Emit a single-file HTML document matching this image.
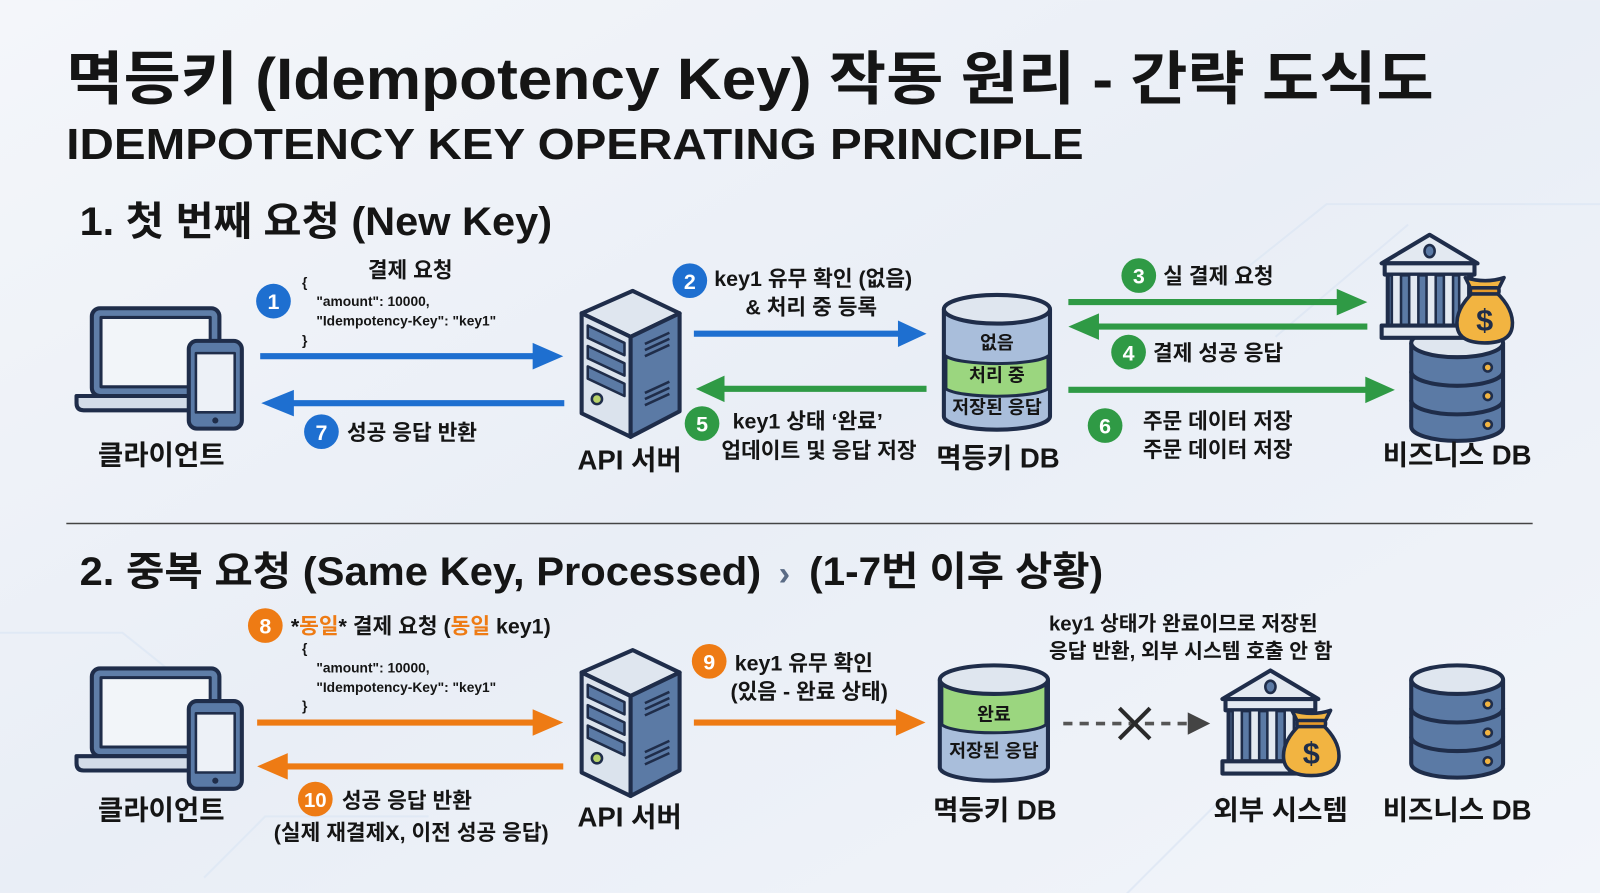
<!DOCTYPE html>
<html><head><meta charset="utf-8"><style>
html,body{margin:0;padding:0;width:1600px;height:893px;overflow:hidden;background:#f0f3f8}
svg{display:block}
text{font-family:"Liberation Sans","Noto Sans CJK KR",sans-serif;font-weight:bold;fill:#151515}
</style></head><body>
<svg width="1600" height="893" viewBox="0 0 1568 875" xmlns="http://www.w3.org/2000/svg">
<defs>
<linearGradient id="bg" x1="0" y1="0" x2="1" y2="1"><stop offset="0" stop-color="#f4f6fa"/><stop offset="0.5" stop-color="#e9eef6"/><stop offset="1" stop-color="#f2f5fa"/></linearGradient>
<g id="laptop" stroke="#1f2d4a" stroke-linejoin="round">
<rect x="15" y="0" width="125" height="86" rx="8" fill="#5f7ea8" stroke-width="4"/>
<rect x="24" y="9" width="107" height="68" fill="#f2f5f9" stroke-width="3"/>
<path d="M0,86 L155,86 L155,93 Q155,100 148,100 L7,100 Q0,100 0,93 Z" fill="#d3dce8" stroke-width="4"/>
<rect x="110" y="32" width="52" height="86" rx="8" fill="#5a7aa6" stroke-width="4"/>
<rect x="117" y="44" width="38" height="58" fill="#edf1f7" stroke-width="2.5"/>
<circle cx="136" cy="110" r="3" fill="#1f2d4a" stroke="none"/>
</g>
<g id="server" stroke="#1f2d4a" stroke-width="4" stroke-linejoin="round">
<polygon points="0,22 50,0 96,22 48,45" fill="#dfe6ef"/>
<polygon points="0,22 48,45 48,143 0,120" fill="#dbe3ed"/>
<polygon points="48,45 96,22 96,118 48,143" fill="#5b7aa5"/>
<polygon points="6,34 42,51 42,63 6,46" fill="#5b7aa5" stroke-width="2.5"/>
<polygon points="6,54 42,71 42,83 6,66" fill="#5b7aa5" stroke-width="2.5"/>
<polygon points="6,74 42,91 42,103 6,86" fill="#5b7aa5" stroke-width="2.5"/>
<circle cx="15" cy="106" r="5" fill="#b8d36a" stroke-width="2.5"/>
<g stroke-width="2.5"><line x1="62" y1="52" x2="86" y2="41"/><line x1="62" y1="58" x2="86" y2="47"/><line x1="62" y1="64" x2="86" y2="53"/><line x1="62" y1="100" x2="86" y2="89"/><line x1="62" y1="106" x2="86" y2="95"/><line x1="62" y1="112" x2="86" y2="101"/></g>
</g>
<g id="bank" stroke="#1f2d4a" stroke-width="4" stroke-linejoin="round">
<polygon points="47,0 0,28 94,28" fill="#e3e9f1"/>
<ellipse cx="47" cy="16" rx="5" ry="6" fill="#5b7aa5" stroke-width="2.5"/>
<rect x="3" y="28" width="88" height="11" fill="#e3e9f1"/>
<rect x="6" y="39" width="82" height="50" fill="#5b7aa5"/>
<g fill="#e3e9f1" stroke-width="2.5"><rect x="10" y="39" width="9" height="50"/><rect x="27" y="39" width="9" height="50"/><rect x="44" y="39" width="9" height="50"/><rect x="61" y="39" width="9" height="50"/><rect x="76" y="39" width="9" height="50"/></g>
<rect x="0" y="89" width="94" height="12" fill="#e3e9f1"/>
</g>
<g id="bag" stroke="#1f2d4a" stroke-width="3.5" stroke-linejoin="round">
<path d="M16,16 L10,4 Q30,10 48,4 L42,16 Z" fill="#f2b441"/>
<path d="M18,18 Q0,35 2,52 Q4,68 29,68 Q54,68 56,52 Q58,35 40,18 Z" fill="#f2b441"/>
<rect x="15" y="14" width="28" height="6" rx="2" fill="#e59a2a"/>
<text x="29" y="56" text-anchor="middle" font-size="30" style="fill:#1f2d4a;stroke:none">$</text>
</g>
<g id="stack" stroke="#1f2d4a" stroke-width="4">
<path d="M0,14 L0,96 A45,14 0 0 0 90,96 L90,14" fill="#5b7aa5"/>
<ellipse cx="45" cy="14" rx="45" ry="14" fill="#dfe6ef"/>
<path d="M0,42 A45,14 0 0 0 90,42 M0,70 A45,14 0 0 0 90,70" fill="none"/>
<g fill="#f2b441" stroke-width="2.5"><circle cx="75" cy="38" r="4"/><circle cx="75" cy="66" r="4"/><circle cx="75" cy="94" r="4"/></g>
</g>
</defs>
<rect width="1568" height="875" fill="url(#bg)"/>
<g stroke="#dfe8f4" stroke-width="2" fill="none" opacity="0.9">
<path d="M1200,280 L1300,200 L1568,200"/><path d="M1250,330 L1380,220"/><path d="M0,620 L120,620 L170,660"/><path d="M200,860 L260,800 L420,800"/><path d="M1100,880 L1200,780"/>
</g>

<!-- titles -->
<text x="65" y="97" font-size="57" textLength="1340" lengthAdjust="spacingAndGlyphs">멱등키 (Idempotency Key) 작동 원리 - 간략 도식도</text>
<text x="65" y="156" font-size="43" textLength="997" lengthAdjust="spacingAndGlyphs">IDEMPOTENCY KEY OPERATING PRINCIPLE</text>
<text x="78" y="230" font-size="39" textLength="463" lengthAdjust="spacingAndGlyphs">1. 첫 번째 요청 (New Key)</text>

<!-- section 1 -->
<use href="#laptop" x="75" y="302"/>
<text x="158" y="455" font-size="27" text-anchor="middle">클라이언트</text>
<use href="#server" x="570" y="285"/>
<text x="617" y="460" font-size="27" text-anchor="middle">API 서버</text>

<g fill="#1e6fd0" stroke="#1e6fd0">
<line x1="255" y1="349" x2="525" y2="349" stroke-width="6"/><polygon points="522,336 552,349 522,362" stroke="none"/>
<line x1="285" y1="395" x2="553" y2="395" stroke-width="6"/><polygon points="288,382 256,395 288,408" stroke="none"/>
<line x1="680" y1="327" x2="882" y2="327" stroke-width="6"/><polygon points="880,314 908,327 880,340" stroke="none"/>
</g>
<g fill="#2f9a45" stroke="#2f9a45">
<line x1="708" y1="381" x2="908" y2="381" stroke-width="6"/><polygon points="710,368 682,381 710,394" stroke="none"/>
<line x1="1047" y1="296" x2="1312" y2="296" stroke-width="6"/><polygon points="1310,283 1340,296 1310,309" stroke="none"/>
<line x1="1075" y1="320" x2="1340" y2="320" stroke-width="6"/><polygon points="1077,307 1047,320 1077,333" stroke="none"/>
<line x1="1047" y1="382" x2="1340" y2="382" stroke-width="6"/><polygon points="1338,369 1367,382 1338,395" stroke="none"/>
</g>

<g fill="#1e6fd0"><circle cx="268" cy="295" r="17"/><circle cx="315" cy="423" r="17"/><circle cx="676" cy="275" r="17"/></g>
<g fill="#2f9a45"><circle cx="688" cy="415" r="17"/><circle cx="1116" cy="270" r="17"/><circle cx="1106" cy="345" r="17"/><circle cx="1083" cy="417" r="17"/></g>
<g font-size="21" text-anchor="middle">
<text x="268" y="303" style="fill:#fff">1</text><text x="315" y="431" style="fill:#fff">7</text><text x="676" y="283" style="fill:#fff">2</text>
<text x="688" y="423" style="fill:#fff">5</text><text x="1116" y="278" style="fill:#fff">3</text><text x="1106" y="353" style="fill:#fff">4</text><text x="1083" y="425" style="fill:#fff">6</text>
</g>
<text x="402" y="272" font-size="21" text-anchor="middle">결제 요청</text>
<g font-size="13.5"><text x="296" y="281">{</text><text x="310" y="300">"amount": 10000,</text><text x="310" y="319">"Idempotency-Key": "key1"</text><text x="296" y="338">}</text></g>
<text x="340" y="431" font-size="21">성공 응답 반환</text>
<text x="700" y="280" font-size="21">key1 유무 확인 (없음)</text>
<text x="795" y="308" font-size="21" text-anchor="middle">&amp; 처리 중 등록</text>
<text x="718" y="420" font-size="21">key1 상태 ‘완료’</text>
<text x="707" y="449" font-size="21">업데이트 및 응답 저장</text>
<text x="1140" y="278" font-size="21">실 결제 요청</text>
<text x="1130" y="353" font-size="21">결제 성공 응답</text>
<text x="1120" y="420" font-size="21">주문 데이터 저장</text>
<text x="1120" y="448" font-size="21">주문 데이터 저장</text>

<!-- idem DB 1 -->
<g stroke="#1f2d4a" stroke-width="4">
<path d="M925,303 L925,408 A52,13 0 0 0 1029,408 L1029,303" fill="#a9bedb"/>
<path d="M927,349 A52,10 0 0 0 1027,349 L1027,381 A52,10 0 0 1 927,381 Z" fill="#9bd67f" stroke-width="3"/>
<ellipse cx="977" cy="303" rx="52" ry="14" fill="#dfe6ef"/>
</g>
<g font-size="18" text-anchor="middle"><text x="977" y="342">없음</text><text x="977" y="374">처리 중</text><text x="977" y="405">저장된 응답</text></g>
<text x="978" y="458" font-size="27" text-anchor="middle">멱등키 DB</text>

<use href="#stack" x="1383" y="322"/>
<use href="#bank" x="1354" y="230"/>
<use href="#bag" x="1426" y="268"/>
<text x="1428" y="455" font-size="27" text-anchor="middle">비즈니스 DB</text>

<line x1="65" y1="513" x2="1502" y2="513" stroke="#444" stroke-width="1.5"/>

<!-- section 2 -->
<text x="78" y="573" font-size="39" textLength="668" lengthAdjust="spacingAndGlyphs">2. 중복 요청 (Same Key, Processed)</text>
<text x="763" y="573" font-size="34" style="fill:#5a6b85">›</text>
<text x="793" y="573" font-size="39" textLength="288" lengthAdjust="spacingAndGlyphs">(1-7번 이후 상황)</text>

<use href="#laptop" x="75" y="655"/>
<text x="158" y="803" font-size="27" text-anchor="middle">클라이언트</text>
<use href="#server" x="570" y="637"/>
<text x="617" y="810" font-size="27" text-anchor="middle">API 서버</text>

<g fill="#ee7b14" stroke="#ee7b14">
<line x1="252" y1="708" x2="525" y2="708" stroke-width="6"/><polygon points="522,695 552,708 522,721" stroke="none"/>
<line x1="280" y1="751" x2="552" y2="751" stroke-width="6"/><polygon points="282,738 252,751 282,764" stroke="none"/>
<line x1="680" y1="708" x2="880" y2="708" stroke-width="6"/><polygon points="878,695 907,708 878,721" stroke="none"/>
</g>
<g fill="#ee7b14"><circle cx="260" cy="613" r="17"/><circle cx="309" cy="783" r="17"/><circle cx="695" cy="648" r="17"/></g>
<text x="260" y="621" font-size="21" text-anchor="middle" style="fill:#fff">8</text>
<text x="309" y="791" font-size="20" text-anchor="middle" style="fill:#fff">10</text>
<text x="695" y="656" font-size="21" text-anchor="middle" style="fill:#fff">9</text>
<text x="285" y="621" font-size="21">*<tspan style="fill:#ee7b14">동일</tspan>* 결제 요청 (<tspan style="fill:#ee7b14">동일</tspan> key1)</text>
<g font-size="13.5"><text x="296" y="640">{</text><text x="310" y="659">"amount": 10000,</text><text x="310" y="678">"Idempotency-Key": "key1"</text><text x="296" y="696">}</text></g>
<text x="335" y="792" font-size="21">성공 응답 반환</text>
<text x="403" y="823" font-size="21" text-anchor="middle">(실제 재결제X, 이전 성공 응답)</text>
<text x="720" y="657" font-size="21">key1 유무 확인</text>
<text x="793" y="685" font-size="21" text-anchor="middle">(있음 - 완료 상태)</text>

<g stroke="#1f2d4a" stroke-width="4">
<path d="M921,666 L921,752 A53,13 0 0 0 1027,752 L1027,666" fill="#a9bedb"/>
<path d="M923,666 L1025,666 L1025,710 A52,10 0 0 1 923,710 Z" fill="#9bd67f" stroke-width="3"/>
<ellipse cx="974" cy="666" rx="53" ry="14" fill="#dfe6ef"/>
</g>
<g font-size="18" text-anchor="middle"><text x="974" y="706">완료</text><text x="974" y="742">저장된 응답</text></g>
<text x="975" y="803" font-size="27" text-anchor="middle">멱등키 DB</text>

<line x1="1042" y1="709" x2="1165" y2="709" stroke="#555" stroke-width="3.5" stroke-dasharray="9,7"/>
<polygon points="1164,698 1186,709 1164,720" fill="#444"/>
<g stroke="#2a2a2a" stroke-width="4"><line x1="1097" y1="694" x2="1127" y2="724"/><line x1="1127" y1="694" x2="1097" y2="724"/></g>
<text x="1028" y="618" font-size="20">key1 상태가 완료이므로 저장된</text>
<text x="1028" y="645" font-size="20">응답 반환, 외부 시스템 호출 안 함</text>

<use href="#bank" x="1198" y="657"/>
<use href="#bag" x="1256" y="692"/>
<text x="1255" y="803" font-size="27" text-anchor="middle">외부 시스템</text>
<use href="#stack" x="1383" y="652"/>
<text x="1428" y="803" font-size="27" text-anchor="middle">비즈니스 DB</text>
</svg>
</body></html>
